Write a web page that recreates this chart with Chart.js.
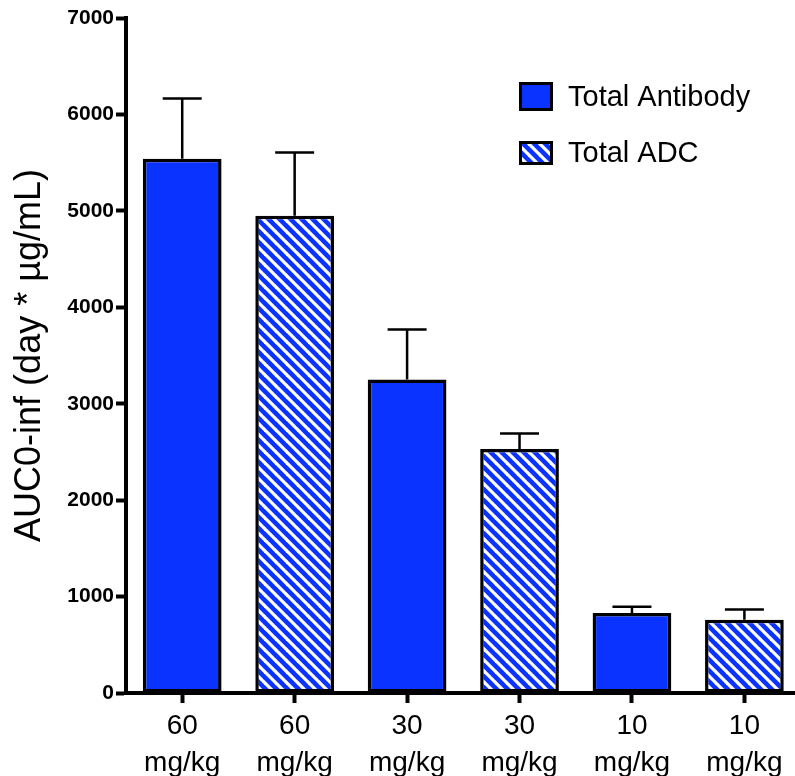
<!DOCTYPE html>
<html>
<head>
<meta charset="utf-8">
<script src="https://cdn.jsdelivr.net/npm/chart.js@4.4.1/dist/chart.umd.min.js"></script>
<style>
  html, body { margin: 0; padding: 0; background: #fff; overflow: hidden; }
  canvas { display: block; }
</style>
</head>
<body>
<canvas id="c" width="795" height="776"></canvas>
<script>
// ---- data ----
const doses = ['60', '60', '30', '30', '10', '10'];
const doseUnit = 'mg/kg';
const seriesNames = ['Total Antibody', 'Total ADC'];
const antibodyPos = [0, 2, 4];
const antibodyMean = [5540, 3250, 830];
const antibodyErr = [625, 520, 65];
const adcPos = [1, 3, 5];
const adcMean = [4950, 2530, 760];
const adcErr = [655, 160, 105];
const yTicks = [0, 1000, 2000, 3000, 4000, 5000, 6000, 7000];
const yTitle = 'AUC0-inf (day * µg/mL)';

// ---- styles ----
const FONT = '"Liberation Sans", Arial, Helvetica, sans-serif';
const BLUE = '#0a33ff';

function makeStripes() {
  const p = 11;
  const c = document.createElement('canvas');
  c.width = p; c.height = p;
  const g = c.getContext('2d');
  g.fillStyle = BLUE;
  g.fillRect(0, 0, p, p);
  g.strokeStyle = '#ffffff';
  g.lineWidth = 3.2;
  for (let k = -1; k <= 1; k++) {
    g.beginPath();
    g.moveTo(k * p - 1, -1);
    g.lineTo(k * p + p + 1, p + 1);
    g.stroke();
  }
  return document.getElementById('c').getContext('2d').createPattern(c, 'repeat');
}
const STRIPES = makeStripes();

const toPoints = (xs, ys) => xs.map((x, i) => ({ x: x, y: ys[i] }));

const errorBars = {
  id: 'errorBars',
  afterDatasetsDraw(chart) {
    const { ctx, scales: { x, y } } = chart;
    const sets = [[antibodyPos, antibodyMean, antibodyErr], [adcPos, adcMean, adcErr]];
    ctx.save();
    ctx.strokeStyle = '#000';
    ctx.lineWidth = 2.5;
    sets.forEach(([pos, mean, err]) => {
      pos.forEach((p, i) => {
        const px = x.getPixelForValue(p);
        const y0 = y.getPixelForValue(mean[i]);
        const y1 = y.getPixelForValue(mean[i] + err[i]);
        ctx.beginPath();
        ctx.moveTo(px, y0);
        ctx.lineTo(px, y1);
        ctx.moveTo(px - 19.5, y1);
        ctx.lineTo(px + 19.5, y1);
        ctx.stroke();
      });
    });
    ctx.restore();
  }
};

const customLegend = {
  id: 'customLegend',
  afterDraw(chart) {
    const { ctx } = chart;
    const items = [
      { y: 82, h: 29 },
      { y: 141, h: 24 }
    ];
    ctx.save();
    chart.data.datasets.forEach((ds, i) => {
      const it = items[i];
      const bx = 519, bw = 34;
      ctx.fillStyle = ds.backgroundColor;
      ctx.fillRect(bx, it.y, bw, it.h);
      ctx.strokeStyle = '#000';
      ctx.lineWidth = 3;
      ctx.strokeRect(bx + 1.5, it.y + 1.5, bw - 3, it.h - 3);
      ctx.fillStyle = '#000';
      ctx.font = '29px ' + FONT;
      ctx.textBaseline = 'middle';
      ctx.textAlign = 'left';
      ctx.fillText(ds.label, 568, it.y + it.h / 2 + 1);
    });
    ctx.restore();
  }
};

new Chart(document.getElementById('c'), {
  type: 'bar',
  data: {
    datasets: [
      {
        label: seriesNames[0],
        data: toPoints(antibodyPos, antibodyMean),
        backgroundColor: BLUE,
        borderColor: '#000',
        borderWidth: 3.5,
        borderSkipped: false
      },
      {
        label: seriesNames[1],
        data: toPoints(adcPos, adcMean),
        backgroundColor: STRIPES,
        borderColor: '#000',
        borderWidth: 3.5,
        borderSkipped: false
      }
    ]
  },
  options: {
    responsive: false,
    animation: false,
    grouped: false,
    barPercentage: 0.7,
    categoryPercentage: 1,
    layout: { padding: { top: 18, right: 0, left: 0, bottom: 0 } },
    plugins: { legend: { display: false }, tooltip: { enabled: false } },
    scales: {
      x: {
        type: 'linear',
        offset: false,
        min: -0.5,
        max: 5.45,
        afterBuildTicks: s => { s.ticks = doses.map((d, i) => ({ value: i })); },
        afterFit: s => { s.height = 83; },
        ticks: {
          autoSkip: false,
          maxRotation: 0,
          padding: 5,
          color: '#000',
          font: { family: FONT, size: 28, lineHeight: 1.32 },
          callback: v => [doses[v], doseUnit]
        },
        grid: { offset: false, drawOnChartArea: false, drawTicks: true, tickLength: 10, tickWidth: 4, tickColor: '#000' },
        border: { display: true, color: '#000', width: 4 }
      },
      y: {
        min: yTicks[0],
        max: yTicks[yTicks.length - 1],
        afterBuildTicks: s => { s.ticks = yTicks.map(v => ({ value: v })); },
        afterFit: s => { s.width = 126; },
        ticks: {
          padding: 2,
          color: '#000',
          font: { family: FONT, size: 21, weight: 'bold' },
          callback: v => String(v)
        },
        grid: { drawOnChartArea: false, drawTicks: true, tickLength: 10, tickWidth: 4, tickColor: '#000' },
        border: { display: true, color: '#000', width: 4 },
        title: {
          display: true,
          text: yTitle,
          color: '#000',
          font: { family: FONT, size: 36 },
          padding: { top: 8, bottom: 0 }
        }
      }
    }
  },
  plugins: [errorBars, customLegend]
});
</script>
</body>
</html>
